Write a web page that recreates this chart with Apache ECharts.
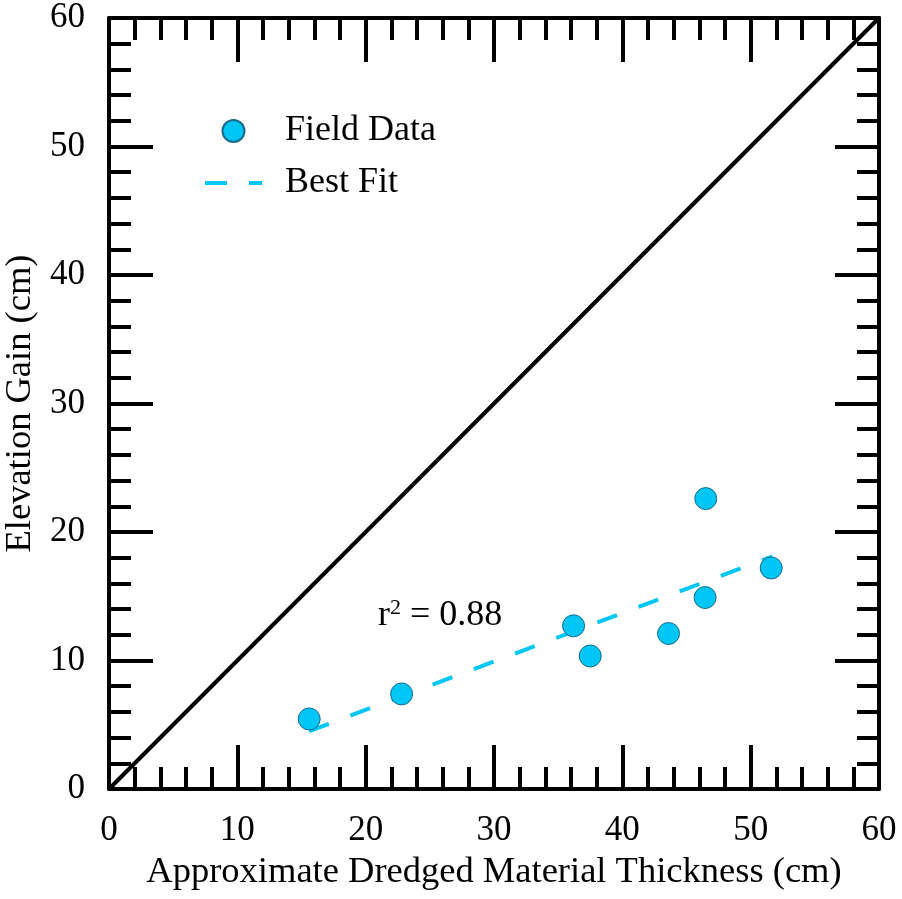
<!DOCTYPE html>
<html>
<head>
<meta charset="utf-8">
<script src="https://cdn.jsdelivr.net/npm/echarts@6/dist/echarts.min.js"></script>
<style>html,body{margin:0;padding:0;background:#fff}#c{width:902px;height:899px}</style>
</head>
<body>
<div id="c"></div>
<script>
var thickness = [15.6, 22.8, 36.2, 37.5, 43.6, 46.45, 46.5, 51.6];
var elevation = [5.45, 7.4, 12.7, 10.35, 12.1, 14.9, 22.6, 17.2];
var fitX = [15.6, 51.7];
var fitY = [4.5, 18.1];
var oneToOneX = [0, 60];
var oneToOneY = [0, 60];
var xTicks = [0, 10, 20, 30, 40, 50, 60];
var yTicks = [0, 10, 20, 30, 40, 50, 60];

function pairs(a, b) { return a.map(function (v, i) { return [v, b[i]]; }); }

var FONT = '"Liberation Serif", "DejaVu Serif", serif';
var BLUE = '#00c6f6';

function axisCommon(showLabel, pos, isX, name) {
  var ticks = isX ? xTicks : yTicks;
  return {
    type: 'value', position: pos, min: ticks[0], max: ticks[ticks.length - 1], interval: 10,
    name: name || '', nameLocation: 'middle',
    nameGap: isX ? 65 : 69,
    nameTextStyle: {fontFamily: FONT, fontSize: 36.5, color: '#000'},
    axisLine: {show: true, onZero: false, lineStyle: {color: '#000', width: 4}},
    axisTick: {show: true, inside: true, length: 44, lineStyle: {color: '#000', width: 4}},
    minorTick: {show: true, splitNumber: 5, length: 22, lineStyle: {color: '#000', width: 4}},
    splitLine: {show: false},
    minorSplitLine: {show: false},
    axisLabel: {show: showLabel, fontFamily: FONT, fontSize: 35, color: '#000', margin: 24}
  };
}

var chart = echarts.init(document.getElementById('c'));

chart.setOption({
  animation: false,
  backgroundColor: '#fff',
  grid: {left: 109, top: 18, right: 23, bottom: 110, containLabel: false, outerBoundsMode: 'none'},
  xAxis: [
    axisCommon(true, 'bottom', true, 'Approximate Dredged Material Thickness (cm)'),
    axisCommon(false, 'top', true)
  ],
  yAxis: [
    axisCommon(true, 'left', false, 'Elevation Gain (cm)'),
    axisCommon(false, 'right', false)
  ],
  legend: {
    orient: 'vertical', left: 203, top: 113, padding: 0, itemWidth: 57, itemHeight: 22, itemGap: 16,
    textStyle: {fontFamily: FONT, fontSize: 36, lineHeight: 36, color: '#000', padding: [0, 0, 0, 18]},
    data: [
      {name: 'Field Data', icon: 'circle'},
      {name: 'Best Fit', itemStyle: {color: 'rgba(0,0,0,0)', borderWidth: 0, opacity: 0},
       lineStyle: {color: BLUE, width: 4, type: [22, 22]}}
    ]
  },
  series: [
    {
      name: 'one-to-one', type: 'line', data: pairs(oneToOneX, oneToOneY), symbol: 'none', silent: true,
      lineStyle: {color: '#000', width: 4}, z: 2
    },
    {
      name: 'Best Fit', type: 'line', data: pairs(fitX, fitY), symbol: 'none', silent: true,
      lineStyle: {color: BLUE, width: 4, type: [21, 23]}, itemStyle: {color: BLUE}, z: 3,
      markPoint: {
        symbol: 'rect', symbolSize: 0, silent: true,
        data: [{coord: [25.8, 13.5], label: {show: true, position: 'inside', color: '#000', fontFamily: FONT, fontSize: 36,
          formatter: 'r{s|2} = 0.88', rich: {s: {fontSize: 22, verticalAlign: 'top', padding: [0, 0, 14, 0], fontFamily: FONT, color: '#000'}}}}]
      }
    },
    {
      name: 'Field Data', type: 'scatter', data: pairs(thickness, elevation), symbol: 'circle', symbolSize: 22,
      itemStyle: {color: BLUE, borderColor: '#1a6a8a', borderWidth: 1, opacity: 1}, z: 4
    }
  ]
});
</script>
</body>
</html>
